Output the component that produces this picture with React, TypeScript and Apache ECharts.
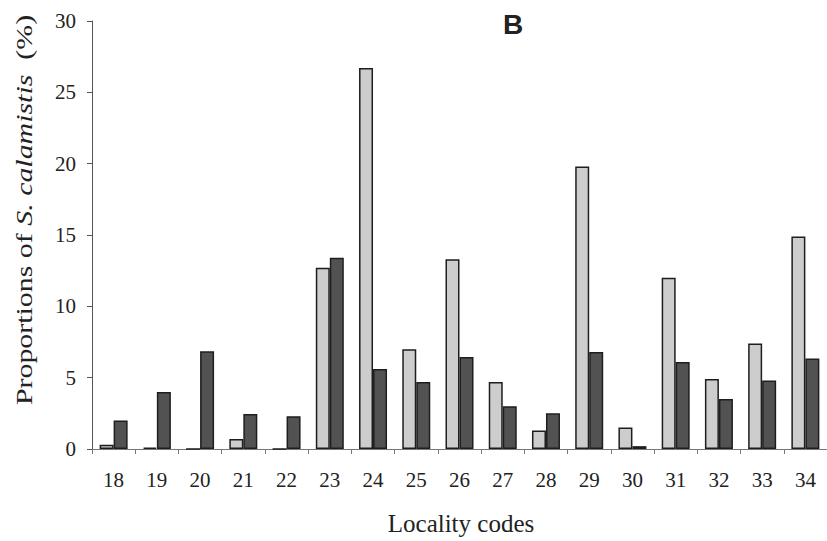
import React, { useEffect, useRef } from "react";
import * as echarts from "echarts";

const categories = ["18", "19", "20", "21", "22", "23", "24", "25", "26", "27", "28", "29", "30", "31", "32", "33", "34"];
const lightValues = [0.3, 0.1, 0, 0.7, 0, 12.7, 26.7, 7.0, 13.3, 4.7, 1.3, 19.8, 1.5, 12.0, 4.9, 7.4, 14.9];
const darkValues = [2.0, 4.0, 6.85, 2.45, 2.3, 13.4, 5.6, 4.7, 6.45, 3.0, 2.5, 6.8, 0.2, 6.1, 3.5, 4.8, 6.35];
const yTicks = { min: 0, max: 30, interval: 5 };

const serif = "'Liberation Serif', 'Times New Roman', serif";

export default function App() {
  const ref = useRef<HTMLDivElement>(null);
  useEffect(() => {
    if (!ref.current) return;
    const chart = echarts.init(ref.current, null, { renderer: "svg" });
    chart.setOption({
      animation: false,
      backgroundColor: "#ffffff",
      grid: { left: 92, right: -9, top: 21, bottom: 92, containLabel: false },
      xAxis: {
        type: "category",
        data: categories,
        axisLine: { show: true, lineStyle: { color: "#777", width: 1 } },
        axisTick: { show: true, interval: 0, alignWithLabel: false, length: 5, lineStyle: { color: "#777" } },
        axisLabel: { fontFamily: serif, fontSize: 21, color: "#222", margin: 20 },
        splitLine: { show: false },
      },
      yAxis: {
        type: "value",
        min: yTicks.min,
        max: yTicks.max,
        interval: yTicks.interval,
        axisLine: { show: true, lineStyle: { color: "#555", width: 1 } },
        axisTick: { show: true, length: 5, inside: false, lineStyle: { color: "#555" } },
        axisLabel: { fontFamily: serif, fontSize: 21, color: "#222", margin: 16 },
        splitLine: { show: false },
      },
      series: [
        {
          type: "bar",
          data: lightValues,
          barWidth: 14,
          barGap: "0%",
          itemStyle: { color: "#cdcdcd", borderColor: "#1e1e1e", borderWidth: 1.5 },
        },
        {
          type: "bar",
          data: darkValues,
          barWidth: 14,
          barGap: "0%",
          itemStyle: { color: "#525252", borderColor: "#1e1e1e", borderWidth: 1.5 },
        },
      ],
      graphic: [
        {
          type: "text",
          x: 513,
          y: 24,
          style: {
            text: "B",
            fontFamily: "'Liberation Sans', Arial, sans-serif",
            fontWeight: "bold",
            fontSize: 28,
            fill: "#222",
            align: "center",
            verticalAlign: "middle",
          },
        },
        {
          type: "text",
          x: 461,
          y: 523,
          style: {
            text: "Locality codes",
            fontFamily: serif,
            fontSize: 25,
            fill: "#222",
            align: "center",
            verticalAlign: "middle",
          },
        },
        {
          type: "text",
          x: 24,
          y: 210,
          rotation: Math.PI / 2,
          scaleX: 1.3,
          style: {
            text: "Proportions of {i|S. calamistis}  (%)",
            fontFamily: serif,
            fontSize: 23,
            fill: "#222",
            align: "center",
            verticalAlign: "middle",
            rich: { i: { fontStyle: "italic", fontFamily: serif, fontSize: 23, fill: "#222" } },
          },
        },
      ],
    });
    return () => chart.dispose();
  }, []);
  return <div ref={ref} style={{ width: 827, height: 541, position: "absolute", left: 0, top: 0 }} />;
}
